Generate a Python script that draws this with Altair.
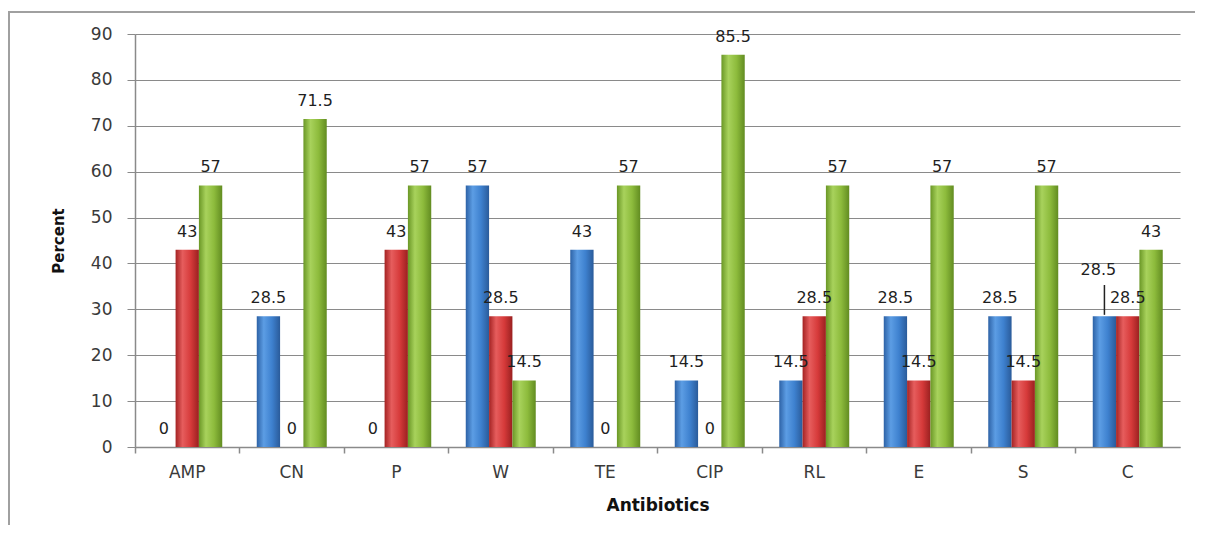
import altair as alt
import pandas as pd

categories = ["AMP", "CN", "P", "W", "TE", "CIP", "RL", "E", "S", "C"]
series_names = ["Series1", "Series2", "Series3"]
blue = [0, 28.5, 0, 57, 43, 14.5, 14.5, 28.5, 28.5, 28.5]
red = [43, 0, 43, 28.5, 0, 0, 28.5, 14.5, 14.5, 28.5]
green = [57, 71.5, 57, 14.5, 57, 85.5, 57, 57, 57, 43]
y_ticks = [0, 10, 20, 30, 40, 50, 60, 70, 80, 90]

# one label (C / Series1) is lifted with a leader line, as in the original
moved_cat = "C"
moved_series = "Series1"
moved_label_y = 34.6
leader_y = [28.8]
leader_y2 = [35.3]

rows = []
for name, vals in zip(series_names, [blue, red, green]):
    for c, v in zip(categories, vals):
        moved = (c == moved_cat and name == moved_series)
        rows.append({"cat": c, "series": name, "value": v,
                     "label": f"{v:g}",
                     "label_y": moved_label_y if moved else v,
                     "moved": moved})
df = pd.DataFrame(rows)


def grad(c0, c1, c2, c3):
    return alt.Gradient(
        gradient="linear", x1=0, x2=1, y1=0, y2=0,
        stops=[alt.GradientStop(color=c0, offset=0),
               alt.GradientStop(color=c1, offset=0.3),
               alt.GradientStop(color=c2, offset=0.65),
               alt.GradientStop(color=c3, offset=1)])


grads = [
    grad("#2d62a6", "#5c9de4", "#3e81cf", "#2a5b9a"),
    grad("#a42323", "#e65d5d", "#d63a3a", "#9a2020"),
    grad("#6a9726", "#a8d25c", "#8dbb3c", "#628c21"),
]

x_scale = alt.Scale(domain=categories, paddingInner=0, paddingOuter=0)
xo_scale = alt.Scale(domain=series_names, paddingInner=0, paddingOuter=0.74)
y_scale = alt.Scale(domain=[0, 90], nice=False)

GRAY = "#8a8a8a"

primary_x_axis = alt.Axis(
    title="Antibiotics", ticks=False, labelAngle=0, labelFontSize=17,
    labelColor="#3a3a3a", labelPadding=17, domainColor=GRAY, domainWidth=1.5,
    titleFontSize=17, titleFontWeight="bold", titleColor="#111111",
    titleY=58, titleBaseline="middle", grid=False, orient="bottom")

secondary_x_axis = alt.Axis(
    title=None, labels=False, ticks=True, tickSize=6, tickColor=GRAY,
    tickWidth=1.5, domain=False, grid=False, bandPosition=0, orient="bottom")

y_axis = alt.Axis(
    title="Percent", values=y_ticks, grid=True, gridColor=GRAY, gridWidth=1.2,
    tickSize=8, tickColor=GRAY, domainColor=GRAY, domainWidth=1.5,
    labelFontSize=17, labelColor="#3a3a3a", labelPadding=15,
    titleFontSize=15, titleFontWeight="bold", titleColor="#111111",
    titleX=-77, titleAlign="center", titleBaseline="middle")


def X(axis):
    return alt.X("cat:N", scale=x_scale, axis=axis)


def XO():
    return alt.XOffset("series:N", scale=xo_scale)


def Y(field):
    return alt.Y(f"{field}:Q", scale=y_scale, axis=y_axis)


layers = []
for i, (name, g) in enumerate(zip(series_names, grads)):
    layers.append(
        alt.Chart(df).transform_filter(alt.datum.series == name)
        .mark_bar(color=g)
        .encode(x=X(primary_x_axis if i == 0 else None), xOffset=XO(),
                y=Y("value"))
    )

labels = (
    alt.Chart(df[~df["moved"]])
    .mark_text(baseline="middle", dy=-18, font="DejaVu Sans", fontSize=16,
               color="#1f1f1f")
    .encode(x=X(None), xOffset=XO(), y=Y("label_y"), text="label:N")
)

moved_label = (
    alt.Chart(df[df["moved"]])
    .mark_text(baseline="middle", dy=-18, dx=-6, font="DejaVu Sans",
               fontSize=16, color="#1f1f1f")
    .encode(x=X(secondary_x_axis), xOffset=XO(), y=Y("label_y"),
            text="label:N")
)

leader_df = pd.DataFrame({"cat": [moved_cat], "series": [moved_series],
                          "y": leader_y, "y2": leader_y2})
leader = (
    alt.Chart(leader_df)
    .mark_rule(color="#222222", strokeWidth=1.5)
    .encode(x=X(None), xOffset=XO(), y=Y("y"), y2="y2:Q")
)

frame_data = alt.Data(values=[{}])
frame_top = alt.Chart(frame_data).mark_rule(color="#a0a0a0", strokeWidth=2).encode(
    x=alt.value(-127), x2=alt.value(1070), y=alt.value(-22))
frame_left = alt.Chart(frame_data).mark_rule(color="#a0a0a0", strokeWidth=2).encode(
    x=alt.value(-126), y=alt.value(-22), y2=alt.value(491))

chart = (
    alt.layer(*layers, labels, moved_label, leader, frame_top, frame_left)
    .resolve_scale(x="shared")
    .resolve_axis(x="independent")
    .properties(width=1045, height=413,
                autosize=alt.AutoSizeParams(type="none"),
                padding={"left": 127, "top": 26, "right": 15, "bottom": 78},
                background="white")
    .configure_view(stroke=None)
    .configure_axis(labelFont="DejaVu Sans", titleFont="DejaVu Sans")
)

chart.save("out.html", embed_options={"renderer": "svg", "actions": False})
